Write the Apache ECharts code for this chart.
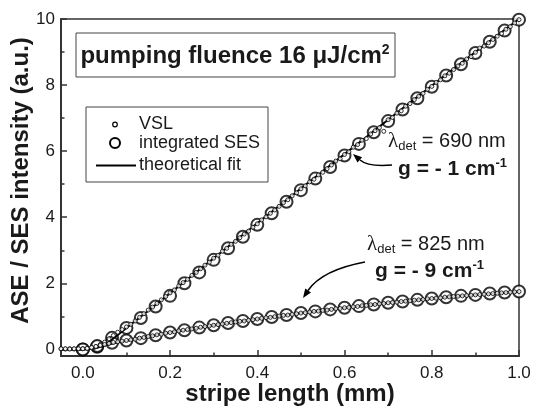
<!DOCTYPE html>
<html>
<head>
<meta charset="utf-8">
<script src="https://cdn.jsdelivr.net/npm/echarts@6/dist/echarts.min.js"></script>
<style>
  html, body { margin: 0; padding: 0; background: #fff; }
  #chart { width: 536px; height: 407px; }
</style>
</head>
<body>
<div id="chart"></div>
<script>
// tick positions
const xMajor = [0, 0.2, 0.4, 0.6, 0.8, 1.0];
const xMinor = [0.1, 0.3, 0.5, 0.7, 0.9];
const yMajor = [0, 2, 4, 6, 8, 10];
const yMinor = [1, 3, 5, 7, 9];

// integrated SES (big circles)
const sesX = [0, 0.033, 0.067, 0.1, 0.133, 0.167, 0.2, 0.233, 0.267, 0.3, 0.333, 0.367, 0.4, 0.433, 0.467, 0.5,
  0.533, 0.567, 0.6, 0.633, 0.667, 0.7, 0.733, 0.767, 0.8, 0.833, 0.867, 0.9, 0.933, 0.967, 1.0];
const ses690 = [0.00, 0.08, 0.35, 0.65, 0.95, 1.30, 1.62, 2.00, 2.33, 2.71, 3.06, 3.41, 3.77, 4.12, 4.47, 4.82,
  5.17, 5.52, 5.87, 6.22, 6.57, 6.91, 7.26, 7.60, 7.95, 8.29, 8.63, 8.97, 9.31, 9.65, 9.98];
const ses825 = [0.00, 0.10, 0.20, 0.27, 0.34, 0.43, 0.51, 0.58, 0.66, 0.73, 0.80, 0.86, 0.92, 0.98, 1.04, 1.10,
  1.15, 1.21, 1.26, 1.31, 1.36, 1.41, 1.45, 1.50, 1.54, 1.58, 1.62, 1.65, 1.69, 1.72, 1.75];

// VSL (small dots), sampled every 0.01 mm from -0.05 mm
const vslStart = -0.05;
const vslStep = 0.01;
const vsl690 = [0.02, 0.01, 0.02, 0.01, 0.02, 0.02,
  0.03, 0.05, 0.08, 0.15, 0.22, 0.32, 0.42, 0.52, 0.60, 0.68,
  0.76, 0.86, 0.97, 1.08, 1.19, 1.28, 1.39, 1.50, 1.60, 1.71,
  1.80, 1.92, 2.02, 2.12, 2.24, 2.33, 2.44, 2.55, 2.64, 2.76,
  2.85, 2.97, 3.06, 3.18, 3.27, 3.38, 3.49, 3.58, 3.70, 3.80,
  3.92, 4.01, 4.12, 4.22, 4.33, 4.44, 4.53, 4.65, 4.74, 4.86,
  4.95, 5.07, 5.15, 5.28, 5.36, 5.47, 5.58, 5.70, 5.77, 5.90,
  5.98, 6.12, 6.20, 6.33, 6.38, 6.52, 6.62, 6.71, 6.60, 6.95,
  7.02, 7.15, 7.22, 7.36, 7.44, 7.56, 7.66, 7.75, 7.87, 7.96,
  8.08, 8.16, 8.28, 8.36, 8.47, 8.58, 8.66, 8.79, 8.86, 8.99,
  9.12, 9.18, 9.28, 9.38, 9.48, 9.56, 9.69, 9.77, 9.88, 9.98];
const vsl825 = [0.02, 0.02, 0.01, 0.02, 0.02, 0.02,
  0.03, 0.06, 0.09, 0.12, 0.15, 0.18, 0.21, 0.23, 0.25, 0.27,
  0.29, 0.31, 0.34, 0.36, 0.39, 0.41, 0.44, 0.46, 0.49, 0.51,
  0.53, 0.56, 0.58, 0.60, 0.62, 0.64, 0.67, 0.69, 0.71, 0.73,
  0.75, 0.77, 0.79, 0.81, 0.83, 0.85, 0.86, 0.88, 0.90, 0.92,
  0.94, 0.96, 0.97, 0.99, 1.01, 1.03, 1.04, 1.06, 1.08, 1.10,
  1.11, 1.13, 1.15, 1.16, 1.18, 1.19, 1.21, 1.23, 1.24, 1.26,
  1.27, 1.29, 1.30, 1.32, 1.33, 1.35, 1.36, 1.38, 1.39, 1.41,
  1.42, 1.43, 1.45, 1.46, 1.47, 1.49, 1.50, 1.51, 1.53, 1.54,
  1.55, 1.56, 1.58, 1.59, 1.60, 1.61, 1.62, 1.63, 1.64, 1.65,
  1.66, 1.67, 1.68, 1.69, 1.70, 1.71, 1.72, 1.73, 1.74, 1.75];

// theoretical fit curves
const fitX = [-0.05, 0, 0.025, 0.05, 0.075, 0.1, 0.15, 0.2, 0.25, 0.3, 0.35, 0.4, 0.45, 0.5,
  0.55, 0.6, 0.65, 0.7, 0.75, 0.8, 0.85, 0.9, 0.95, 1.0];
const fit690 = [0, 0, 0.02, 0.12, 0.38, 0.65, 1.17, 1.70, 2.23, 2.76, 3.29, 3.82, 4.34, 4.87,
  5.39, 5.91, 6.43, 6.95, 7.47, 7.98, 8.49, 9.00, 9.50, 10.0];
const fit825 = [0, 0, 0.05, 0.12, 0.20, 0.26, 0.39, 0.51, 0.62, 0.73, 0.83, 0.92, 1.01, 1.10,
  1.18, 1.26, 1.33, 1.41, 1.47, 1.54, 1.60, 1.65, 1.70, 1.75];

const legendNames = ['VSL', 'integrated SES', 'theoretical fit'];

const FONT = '"Liberation Sans", Arial, sans-serif';
const SERIF = '"Liberation Serif", serif';
const INK = '#1a1a1a';

const pair = (xs, ys) => ys.map((y, i) => [xs[i], y]);
const vslPts = ys => ys.map((y, i) => [+(vslStart + i * vslStep).toFixed(2), y]);

const sesSeries = data => ({
    name: legendNames[1], type: 'scatter', data: data, z: 2, clip: false,
    symbol: 'circle', symbolSize: 12,
    itemStyle: { color: '#fff', borderColor: '#000', borderWidth: 2 },
    emphasis: { disabled: true }
});
const fitSeries = data => ({
    name: legendNames[2], type: 'line', data: data, z: 3,
    symbol: 'none', smooth: false,
    itemStyle: { color: '#000' },
    lineStyle: { color: '#000', width: 2 },
    emphasis: { disabled: true }
});
const vslSeries = data => ({
    name: legendNames[0], type: 'scatter', data: data, z: 4, clip: false,
    symbol: 'circle', symbolSize: 4,
    itemStyle: { color: '#fff', borderColor: '#000', borderWidth: 1 },
    emphasis: { disabled: true }
});

const noZero = { onZero: false, show: true, lineStyle: { color: '#333', width: 2 } };
const tickStyle = { color: '#333', width: 1.5 };

// legend drawn by hand inside its box
const legendRows = [124.5, 143, 165.5];
const legendText = (name, y) => ({
    type: 'text', x: 139, y: y, z: 10,
    style: { text: name, fontSize: 18, fontFamily: FONT, fill: INK, align: 'left', verticalAlign: 'middle' }
});

const option = {
    animation: false,
    textStyle: { fontFamily: FONT },
    grid: {
        left: 61, right: 17, top: 19, bottom: 51, outerBoundsMode: 'none',
        show: true, borderColor: '#333', borderWidth: 1.5
    },
    xAxis: [
        {
            type: 'value', min: -0.05, max: 1.0, position: 'bottom',
            name: 'stripe length (mm)', nameLocation: 'middle', nameGap: 26, nameMoveOverlap: false,
            nameTextStyle: { fontSize: 24, fontWeight: 'bold', color: INK, fontFamily: FONT },
            axisLine: noZero,
            axisTick: { show: true, inside: true, length: 6, customValues: xMajor, lineStyle: tickStyle },
            axisLabel: { customValues: xMajor, formatter: v => v.toFixed(1), fontSize: 17, color: INK, margin: 9 },
            splitLine: { show: false }
        },
        {
            type: 'value', min: -0.05, max: 1.0, position: 'bottom',
            axisLine: { show: false, onZero: false },
            axisTick: { show: true, inside: true, length: 3.5, customValues: xMinor, lineStyle: tickStyle },
            axisLabel: { show: false },
            splitLine: { show: false }
        }
    ],
    yAxis: [
        {
            type: 'value', min: -0.2, max: 10, position: 'left',
            name: 'ASE / SES intensity (a.u.)', nameLocation: 'middle', nameGap: 28, nameMoveOverlap: false,
            nameTextStyle: { fontSize: 24, fontWeight: 'bold', color: INK, fontFamily: FONT, padding: [0, 0, 0, 14] },
            axisLine: noZero,
            axisTick: { show: true, inside: true, length: 6, customValues: yMajor, lineStyle: tickStyle },
            axisLabel: { customValues: yMajor, fontSize: 17, color: INK, margin: 6 },
            splitLine: { show: false }
        },
        {
            type: 'value', min: -0.2, max: 10, position: 'left',
            axisLine: { show: false, onZero: false },
            axisTick: { show: true, inside: true, length: 3.5, customValues: yMinor, lineStyle: tickStyle },
            axisLabel: { show: false },
            splitLine: { show: false }
        }
    ],
    series: [
        sesSeries(pair(sesX, ses690)),
        sesSeries(pair(sesX, ses825)),
        fitSeries(pair(fitX, fit690)),
        fitSeries(pair(fitX, fit825)),
        vslSeries(vslPts(vsl690)),
        vslSeries(vslPts(vsl825))
    ],
    graphic: [
        // title box
        { type: 'rect', shape: { x: 76, y: 33, width: 319, height: 44 }, z: 1,
          style: { fill: '#fff', stroke: '#444', lineWidth: 1 } },
        { type: 'text', x: 235, y: 56, z: 10,
          style: {
              text: '{b|pumping fluence 16 μJ/cm}{sup|2}', align: 'center', verticalAlign: 'middle',
              rich: {
                  b: { fontSize: 24, fontWeight: 'bold', fill: INK, fontFamily: FONT, lineHeight: 26 },
                  sup: { fontSize: 14, fontWeight: 'bold', fill: INK, fontFamily: FONT, verticalAlign: 'top', lineHeight: 14 }
              }
          } },
        // legend box and entries
        { type: 'rect', shape: { x: 86, y: 107, width: 182, height: 75 }, z: 1,
          style: { fill: '#fff', stroke: '#444', lineWidth: 1 } },
        { type: 'circle', z: 10, shape: { cx: 115, cy: legendRows[0], r: 2.3 },
          style: { fill: '#fff', stroke: '#000', lineWidth: 1.2 } },
        { type: 'circle', z: 10, shape: { cx: 115, cy: legendRows[1], r: 5 },
          style: { fill: '#fff', stroke: '#000', lineWidth: 2 } },
        { type: 'line', z: 10, shape: { x1: 96, y1: legendRows[2], x2: 136, y2: legendRows[2] },
          style: { stroke: '#000', lineWidth: 2 } },
        legendText(legendNames[0], legendRows[0]),
        legendText(legendNames[1], legendRows[1]),
        legendText(legendNames[2], legendRows[2]),
        // annotation 690 nm
        { type: 'text', x: 388, y: 141, z: 10,
          style: {
              text: '{l|λ}{sub|det}{n| = 690 nm}', align: 'left', verticalAlign: 'middle',
              rich: {
                  l: { fontSize: 21, fill: INK, fontFamily: SERIF, lineHeight: 24 },
                  sub: { fontSize: 13, fill: INK, fontFamily: FONT, verticalAlign: 'bottom', lineHeight: 13 },
                  n: { fontSize: 20, fill: INK, fontFamily: FONT, lineHeight: 24 }
              }
          } },
        { type: 'text', x: 398, y: 169, z: 10,
          style: {
              text: '{g|g = - 1 cm}{sup|-1}', align: 'left', verticalAlign: 'middle',
              rich: {
                  g: { fontSize: 21, fontWeight: 'bold', fill: INK, fontFamily: FONT, lineHeight: 24 },
                  sup: { fontSize: 13, fontWeight: 'bold', fill: INK, fontFamily: FONT, verticalAlign: 'top', lineHeight: 13 }
              }
          } },
        // annotation 825 nm
        { type: 'text', x: 367, y: 244, z: 10,
          style: {
              text: '{l|λ}{sub|det}{n| = 825 nm}', align: 'left', verticalAlign: 'middle',
              rich: {
                  l: { fontSize: 21, fill: INK, fontFamily: SERIF, lineHeight: 24 },
                  sub: { fontSize: 13, fill: INK, fontFamily: FONT, verticalAlign: 'bottom', lineHeight: 13 },
                  n: { fontSize: 20, fill: INK, fontFamily: FONT, lineHeight: 24 }
              }
          } },
        { type: 'text', x: 375, y: 271, z: 10,
          style: {
              text: '{g|g = - 9 cm}{sup|-1}', align: 'left', verticalAlign: 'middle',
              rich: {
                  g: { fontSize: 21, fontWeight: 'bold', fill: INK, fontFamily: FONT, lineHeight: 24 },
                  sup: { fontSize: 13, fontWeight: 'bold', fill: INK, fontFamily: FONT, verticalAlign: 'top', lineHeight: 13 }
              }
          } },
        // arrows
        { type: 'bezierCurve', z: 10,
          shape: { x1: 392, y1: 165, x2: 360, y2: 160, cpx1: 368, cpy1: 167 },
          style: { stroke: '#000', lineWidth: 1.5, fill: null } },
        { type: 'polygon', z: 10,
          shape: { points: [[353, 154], [362.1, 157.2], [357.5, 162.6]] },
          style: { fill: '#000' } },
        { type: 'bezierCurve', z: 10,
          shape: { x1: 365, y1: 262, x2: 308, y2: 290.5, cpx1: 322, cpy1: 270 },
          style: { stroke: '#000', lineWidth: 1.5, fill: null } },
        { type: 'polygon', z: 10,
          shape: { points: [[303, 298], [311, 292.5], [305.2, 288.5]] },
          style: { fill: '#000' } }
    ]
};

const chart = echarts.init(document.getElementById('chart'));
chart.setOption(option);
</script>
</body>
</html>
